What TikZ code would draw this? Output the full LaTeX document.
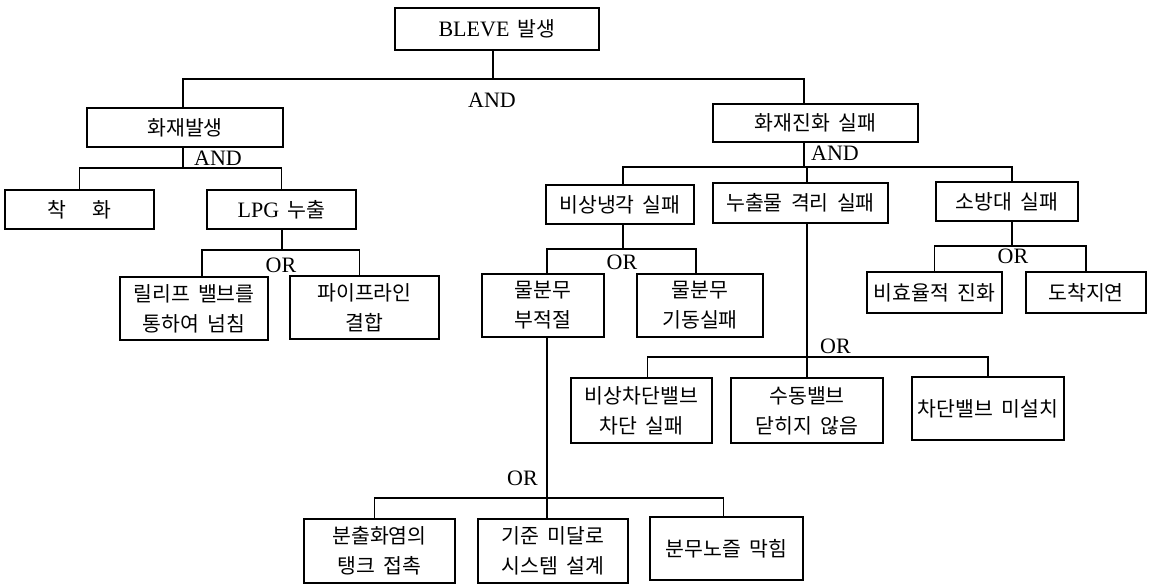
\documentclass[tikz,border=0pt]{standalone}
\usepackage{fontspec}
\setmainfont{Liberation Serif}
\newfontfamily\krfont[WordSpace=1.8]{Noto Sans CJK KR}
\newcommand{\lat}[1]{{\rmfamily\fontsize{22}{24}\selectfont #1}}
\tikzset{
  box/.style={draw, line width=1.4pt, inner sep=0pt, align=center,
    font=\krfont\fontsize{20.5}{30}\selectfont},
  gate/.style={inner sep=0pt, font=\rmfamily\fontsize{22}{24}\selectfont},
  wire/.style={line width=1.2pt},
}
\begin{document}
\begin{tikzpicture}[x=1pt,y=-1pt]
\useasboundingbox (0,0) rectangle (1151,584);
% boxes
\node[box, minimum width=204pt, minimum height=42pt] (bleve) at (497,29) {\lat{BLEVE} 발생};
\node[box, minimum width=196pt, minimum height=39pt] (hj1) at (185,127.5) {화재발생};
\node[box, minimum width=205pt, minimum height=38pt] (hj2) at (815.5,123) {화재진화 실패};
\node[box, minimum width=149pt, minimum height=39pt] (ch) at (79.5,209.5) {착\hspace{1.3em}화};
\node[box, minimum width=149pt, minimum height=39pt] (lpg) at (281.5,209.5) {\lat{LPG} 누출};
\node[box, minimum width=148pt, minimum height=39pt] (ec) at (620,204.5) {비상냉각 실패};
\node[box, minimum width=175pt, minimum height=40pt] (lk) at (800.5,203) {누출물 격리 실패};
\node[box, minimum width=142pt, minimum height=39pt] (fb) at (1007,201.5) {소방대 실패};
\node[box, minimum width=148pt, minimum height=63pt] (rv) at (194,308.5) {릴리프 밸브를\\통하여 넘침};
\node[box, minimum width=149pt, minimum height=63pt] (pl) at (364.5,307.5) {파이프라인\\결합};
\node[box, minimum width=122pt, minimum height=63pt] (ws) at (543,305.5) {물분무\\부적절};
\node[box, minimum width=126pt, minimum height=63pt] (wf) at (700,305.5) {물분무\\기동실패};
\node[box, minimum width=135pt, minimum height=41pt] (ie) at (934.5,292.5) {비효율적 진화};
\node[box, minimum width=120pt, minimum height=41pt] (dl) at (1086,292.5) {도착지연};
\node[box, minimum width=141pt, minimum height=65pt] (es) at (641.5,410.5) {비상차단밸브\\차단 실패};
\node[box, minimum width=152pt, minimum height=65pt] (mv) at (807,410.5) {수동밸브\\닫히지 않음};
\node[box, minimum width=152pt, minimum height=63pt] (ni) at (988,408.5) {차단밸브 미설치};
\node[box, minimum width=151pt, minimum height=64pt] (ft) at (379.5,551) {분출화염의\\탱크 접촉};
\node[box, minimum width=150pt, minimum height=64pt] (sd) at (553,551) {기준 미달로\\시스템 설계};
\node[box, minimum width=153pt, minimum height=63pt] (nz) at (726.5,548.5) {분무노즐 막힘};
% gate labels
\node[gate] (and1) at (492,100) {AND};
\node[gate, anchor=west] (and2) at (194,158) {AND};
\node[gate, anchor=west] (and3) at (811,153) {AND};
\node[gate] (or1) at (281,265) {OR};
\node[gate] (or2) at (622,262) {OR};
\node[gate] (or3) at (1013,256) {OR};
\node[gate, anchor=west] (or4) at (820,346) {OR};
\node[gate, anchor=east] (or5) at (538,478) {OR};
% junctions
\coordinate (g1) at (493,79);
\coordinate (g2) at (183,168);
\coordinate (g3) at (804,167);
\coordinate (g4) at (282,250);
\coordinate (g5) at (623,249);
\coordinate (g6) at (1012,246);
\coordinate (g7) at (807,357);
\coordinate (g8) at (547,498);
% connectors
\draw[wire] (bleve.south -| g1) -- (g1);
\draw[wire] (g1) -| (hj1.north -| g2);
\draw[wire] (g1) -| (hj2.north -| g3);
\draw[wire] (hj1.south -| g2) -- (g2);
\draw[wire] (g2) -| (ch.north);
\draw[wire] (g2) -| (lpg.north);
\draw[wire] (hj2.south -| g3) -- (g3);
\draw[wire] (g3) -| (ec.north -| g5);
\draw[wire] (g3) -| (lk.north -| g7);
\draw[wire] (g3) -| (fb.north -| g6);
\draw[wire] (lpg.south -| g4) -- (g4);
\draw[wire] (g4) -| ([xshift=8pt]rv.north);
\draw[wire] (g4) -| ([xshift=-5pt]pl.north);
\draw[wire] (ec.south -| g5) -- (g5);
\draw[wire] (g5) -| (ws.north -| g8);
\draw[wire] (g5) -| ([xshift=-4pt]wf.north);
\draw[wire] (fb.south -| g6) -- (g6);
\draw[wire] (g6) -| (ie.north);
\draw[wire] (g6) -| (dl.north);
\draw[wire] (lk.south -| g7) -- (g7) -- (mv.north -| g7);
\draw[wire] (g7) -| ([xshift=6pt]es.north);
\draw[wire] (g7) -| (ni.north);
\draw[wire] (ws.south -| g8) -- (g8) -- (sd.north -| g8);
\draw[wire] (g8) -| ([xshift=-5pt]ft.north);
\draw[wire] (g8) -| ([xshift=-3pt]nz.north);
\end{tikzpicture}
\end{document}
